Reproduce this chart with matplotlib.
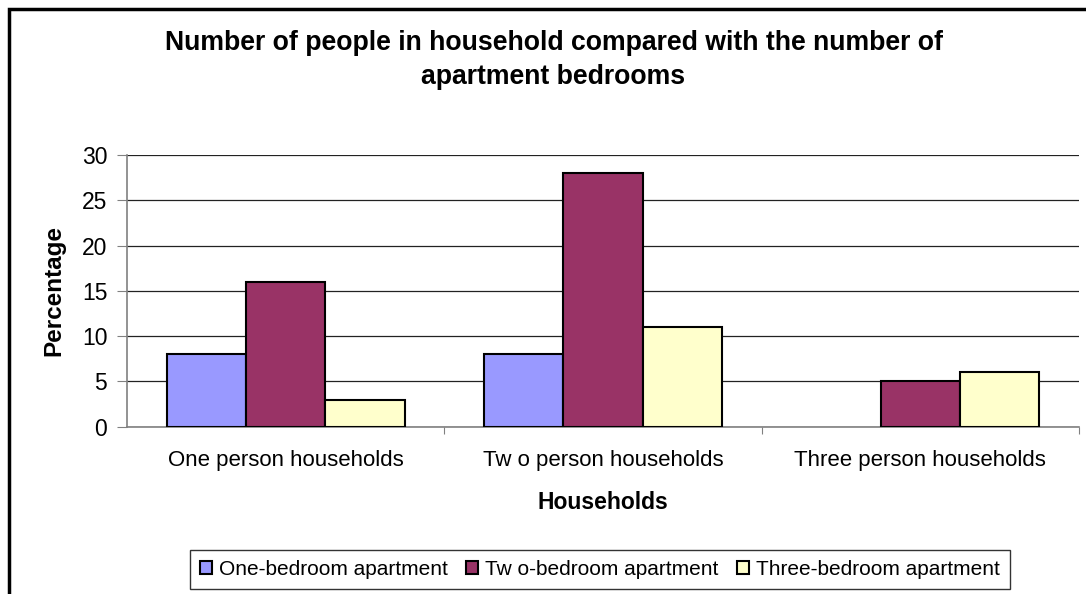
import matplotlib.pyplot as plt
from matplotlib.patches import Rectangle
import numpy as np

plt.rcParams['font.family'] = ['Liberation Sans', 'DejaVu Sans']

households = ['One person households', 'Tw o person households', 'Three person households']
series_names = ['One-bedroom apartment', 'Tw o-bedroom apartment', 'Three-bedroom apartment']
one_bedroom = [8, 8, 0]
two_bedroom = [16, 28, 5]
three_bedroom = [3, 11, 6]
colors = ['#9999FF', '#993366', '#FFFFCC']

fig = plt.figure(figsize=(10.86, 5.94), dpi=100)
ax = fig.add_axes([127/1086, 1 - 426.7/594, (1079 - 127)/1086, (426.7 - 155)/594])

x = np.arange(len(households))
w = 0.25
for i, (vals, name, c) in enumerate(zip([one_bedroom, two_bedroom, three_bedroom], series_names, colors)):
    # no outline on empty bars
    lws = [1.5 if v else 0 for v in vals]
    ax.bar(x + (i - 1)*w, vals, w, color=c, edgecolor='black', linewidth=lws, label=name, zorder=3)

ax.set_xlim(-0.5, 2.5)
ax.set_ylim(0, 30)
ax.set_yticks(range(0, 31, 5))
ax.yaxis.grid(True, color='#222222', linewidth=0.9, zorder=0)
ax.tick_params(axis='y', labelsize=16.5, length=7.2, color='#808080', pad=7)

# category boundaries as major ticks, labels on minor ticks
ax.set_xticks([0.5, 1.5, 2.5])
ax.set_xticklabels([])
ax.set_xticks(x, minor=True)
ax.set_xticklabels(households, minor=True)
ax.tick_params(axis='x', which='major', length=5, color='#808080')
ax.tick_params(axis='x', which='minor', length=0, labelsize=16, pad=17)

for s in ['top', 'right']:
    ax.spines[s].set_visible(False)
for s in ['left', 'bottom']:
    ax.spines[s].set_color('#808080')
    ax.spines[s].set_linewidth(1.2)

ax.set_ylabel('Percentage', fontsize=17.5, fontweight='bold')
ax.yaxis.set_label_coords(-0.065, 0.5)
ax.set_xlabel('Households', fontsize=16.5, fontweight='bold')
ax.xaxis.set_label_coords(0.5, -0.237)

fig.text(0.5097, 1 - 60/594, 'Number of people in household compared with the number of\napartment bedrooms',
         ha='center', va='center', fontsize=19.2, fontweight='bold', linespacing=1.38)

leg = fig.legend(loc='center', bbox_to_anchor=(600/1086, 1 - 569.5/594), ncol=3, fontsize=15,
                 frameon=True, fancybox=False, edgecolor='black', handlelength=0.55, handleheight=0.55,
                 handletextpad=0.35, columnspacing=0.9, borderpad=0.5)
leg.get_frame().set_linewidth(1.0)

# outer chart border (open at right and bottom)
fig.patches.append(Rectangle((9/1086, -0.1), 1.2, 1 - 9/594 + 0.1, transform=fig.transFigure,
                             fill=False, edgecolor='black', linewidth=2.5))

fig.savefig('out.png', dpi=100)
